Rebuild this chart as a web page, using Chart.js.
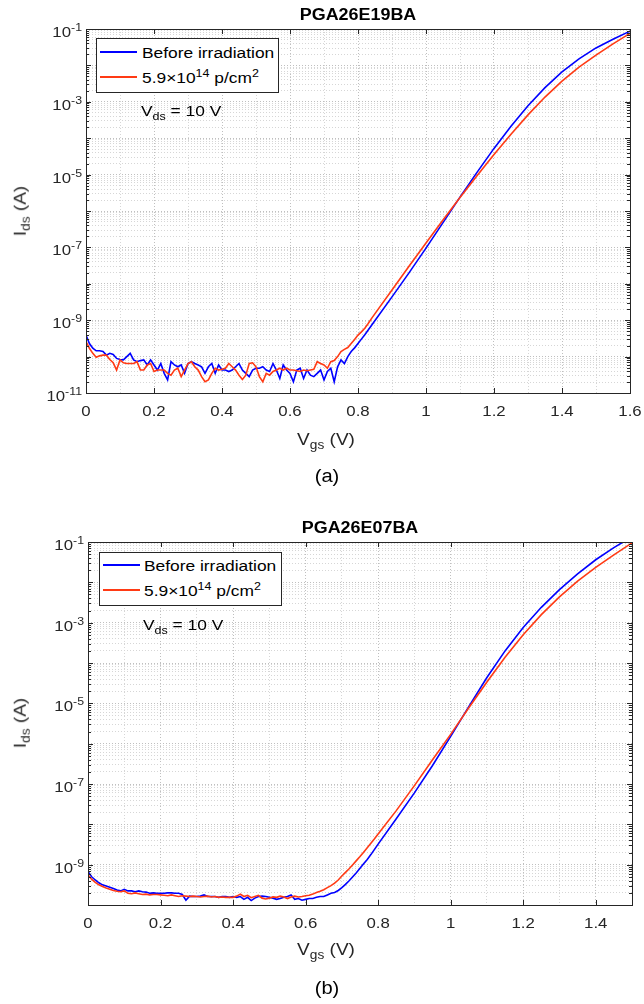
<!DOCTYPE html>
<html>
<head>
<meta charset="utf-8">
<script src="https://cdn.jsdelivr.net/npm/chart.js@4"></script>
<style>
  body { margin: 0; background: #fff; width: 644px; height: 1004px; position: relative; overflow: hidden;
         font-family: "Liberation Sans", Arial, Helvetica, sans-serif; }
  canvas { position: absolute; left: 0; }
  .lbl { position: absolute; white-space: nowrap; color: #262626; line-height: 1; }
  .c { transform: translate(-50%, -50%) scaleX(1.12); }
  .l { transform: translate(0, -50%) scaleX(1.12); transform-origin: 0 50%; }
  .rot { transform: translate(-50%, -50%) rotate(-90deg) scaleX(1.12); }
  .ttl { font-weight: bold; font-size: 16px; color: #000; }
  .ax { font-size: 17px; }
  .cap { font-size: 18px; color: #000; }
  sub { font-size: 0.72em; vertical-align: -0.35em; }
  sup { font-size: 0.72em; vertical-align: 0.55em; }
  .legend { position: absolute; border: 1px solid #262626; background: #fff; box-sizing: border-box; }
  .swatch { position: absolute; height: 2px; width: 37px; }
  .leg { font-size: 15.5px; color: #000; }
</style>
</head>
<body>

<canvas id="chartA" width="644" height="500" style="top:0"></canvas>
<canvas id="chartB" width="644" height="504" style="top:500px"></canvas>

<!-- panel (a) text -->
<div class="lbl c ttl" style="left:358px; top:15px">PGA26E19BA</div>
<div class="lbl rot ax" style="left:22px; top:211px">I<sub>ds</sub> (A)</div>
<div class="lbl c ax" style="left:326px; top:441px">V<sub>gs</sub> (V)</div>
<div class="lbl c cap" style="left:327px; top:476px">(a)</div>
<div class="legend" style="left:96px; top:38px; width:183px; height:55px"></div>
<div class="swatch" style="left:100px; top:51px; background:#0000ff"></div>
<div class="swatch" style="left:100px; top:76px; background:#ff3a14"></div>
<div class="lbl l leg" style="left:142px; top:53px">Before irradiation</div>
<div class="lbl l leg" style="left:142px; top:77px">5.9×10<sup>14</sup> p/cm<sup>2</sup></div>
<div class="lbl l leg" style="left:141px; top:113px">V<sub>ds</sub> = 10 V</div>

<!-- panel (b) text -->
<div class="lbl c ttl" style="left:360px; top:528px">PGA26E07BA</div>
<div class="lbl rot ax" style="left:22px; top:723px">I<sub>ds</sub> (A)</div>
<div class="lbl c ax" style="left:326px; top:951px">V<sub>gs</sub> (V)</div>
<div class="lbl c cap" style="left:327px; top:988px">(b)</div>
<div class="legend" style="left:99px; top:552px; width:183px; height:54px"></div>
<div class="swatch" style="left:103px; top:564px; background:#0000ff"></div>
<div class="swatch" style="left:103px; top:589px; background:#ff3a14"></div>
<div class="lbl l leg" style="left:144px; top:566px">Before irradiation</div>
<div class="lbl l leg" style="left:144px; top:590px">5.9×10<sup>14</sup> p/cm<sup>2</sup></div>
<div class="lbl l leg" style="left:143px; top:627px">V<sub>ds</sub> = 10 V</div>

<script>
// ---- data: gate voltage (V) and log10 of drain current (A) ----

// panel (a) PGA26E19BA
const vgsA = [
  0.00, 0.01, 0.02, 0.03, 0.04, 0.05, 0.06, 0.07, 0.08, 0.09,
  0.10, 0.11, 0.12, 0.13, 0.14, 0.15, 0.16, 0.17, 0.18, 0.19,
  0.20, 0.21, 0.22, 0.23, 0.24, 0.25, 0.26, 0.27, 0.28, 0.29,
  0.30, 0.31, 0.32, 0.33, 0.34, 0.35, 0.36, 0.37, 0.38, 0.39,
  0.40, 0.41, 0.42, 0.43, 0.44, 0.45, 0.46, 0.47, 0.48, 0.49,
  0.50, 0.51, 0.52, 0.53, 0.54, 0.55, 0.56, 0.57, 0.58, 0.59,
  0.60, 0.61, 0.62, 0.63, 0.64, 0.65, 0.66, 0.67, 0.68, 0.69,
  0.70, 0.71, 0.72, 0.73, 0.74, 0.75, 0.76, 0.77, 0.78, 0.79,
  0.80, 0.81, 0.82, 0.83, 0.84, 0.85,
  0.90, 0.95, 1.00, 1.05, 1.10, 1.15, 1.20, 1.25, 1.30, 1.35, 1.40, 1.45, 1.50, 1.55, 1.60
];
const logBeforeA = [
  -9.41, -9.64, -9.77, -9.84, -9.84, -9.86, -9.96, -9.91, -9.94, -10.05,
  -10.08, -10.09, -10.00, -9.91, -10.09, -10.14, -10.11, -10.09, -10.23, -10.09,
  -10.23, -10.37, -10.19, -10.46, -10.64, -10.14, -10.23, -10.28, -10.23, -10.46,
  -10.19, -10.14, -10.19, -10.23, -10.28, -10.46, -10.28, -10.19, -10.46, -10.23,
  -10.37, -10.37, -10.41, -10.37, -10.28, -10.19, -10.37, -10.46, -10.55, -10.37,
  -10.32, -10.32, -10.28, -10.37, -10.41, -10.19, -10.37, -10.60, -10.23, -10.37,
  -10.46, -10.69, -10.37, -10.32, -10.60, -10.37, -10.51, -10.55, -10.46, -10.37,
  -10.64, -10.41, -10.32, -10.69, -10.28, -10.09, -10.19, -10.00, -9.86, -9.76,
  -9.64, -9.52, -9.40, -9.27, -9.14, -9.01,
  -8.36, -7.70, -7.02, -6.32, -5.62, -4.94, -4.28, -3.67, -3.11, -2.61, -2.18, -1.82, -1.52, -1.28, -1.06
];
const logAfterA = [
  -9.59, -9.77, -9.91, -10.02, -9.98, -9.96, -9.96, -10.08, -10.17, -10.37,
  -10.09, -10.17, -10.19, -10.19, -10.19, -10.14, -10.37, -10.37, -10.23, -10.19,
  -10.41, -10.37, -10.37, -10.37, -10.46, -10.51, -10.37, -10.32, -10.55, -10.37,
  -10.19, -10.14, -10.28, -10.37, -10.55, -10.69, -10.64, -10.46, -10.32, -10.37,
  -10.35, -10.32, -10.19, -10.28, -10.37, -10.51, -10.63, -10.51, -10.19, -10.17,
  -10.28, -10.55, -10.69, -10.46, -10.51, -10.41, -10.37, -10.32, -10.37, -10.32,
  -10.37, -10.37, -10.39, -10.41, -10.37, -10.39, -10.37, -10.35, -10.14, -10.19,
  -10.23, -10.32, -10.14, -10.11, -10.00, -9.86, -9.80, -9.75, -9.64, -9.53,
  -9.41, -9.32, -9.22, -9.09, -8.95, -8.82,
  -8.17, -7.52, -6.88, -6.25, -5.63, -5.03, -4.45, -3.89, -3.36, -2.87, -2.43, -2.05, -1.72, -1.41, -1.12
];

// panel (b) PGA26E07BA
const vgsB = [
  0.00, 0.01, 0.02, 0.03, 0.04, 0.05, 0.06, 0.07, 0.08, 0.09,
  0.10, 0.11, 0.12, 0.13, 0.14, 0.15, 0.16, 0.17, 0.18, 0.19,
  0.20, 0.21, 0.22, 0.23, 0.24, 0.25, 0.26, 0.27, 0.28, 0.29,
  0.30, 0.31, 0.32, 0.33, 0.34, 0.35, 0.36, 0.37, 0.38, 0.39,
  0.40, 0.41, 0.42, 0.43, 0.44, 0.45, 0.46, 0.47, 0.48, 0.49,
  0.50, 0.51, 0.52, 0.53, 0.54, 0.55, 0.56, 0.57, 0.58, 0.59,
  0.60, 0.61, 0.62, 0.63, 0.64, 0.65, 0.66, 0.67, 0.68, 0.69,
  0.70, 0.71, 0.72, 0.73, 0.74, 0.75, 0.76, 0.77, 0.78, 0.79,
  0.80,
  0.85, 0.90, 0.95, 1.00, 1.05, 1.10, 1.15, 1.20, 1.25, 1.30, 1.35, 1.40, 1.45, 1.50
];
const logBeforeB = [
  -9.17, -9.30, -9.38, -9.45, -9.50, -9.53, -9.56, -9.59, -9.63, -9.65,
  -9.61, -9.65, -9.65, -9.67, -9.65, -9.67, -9.68, -9.71, -9.70, -9.71,
  -9.71, -9.71, -9.70, -9.70, -9.71, -9.71, -9.74, -9.88, -9.78, -9.79,
  -9.79, -9.78, -9.75, -9.79, -9.79, -9.79, -9.81, -9.79, -9.79, -9.81,
  -9.79, -9.81, -9.79, -9.86, -9.81, -9.89, -9.83, -9.79, -9.78, -9.79,
  -9.81, -9.83, -9.86, -9.84, -9.81, -9.79, -9.75, -9.86, -9.84, -9.88,
  -9.86, -9.84, -9.84, -9.81, -9.79, -9.79, -9.75, -9.71, -9.69, -9.64,
  -9.57, -9.49, -9.40, -9.30, -9.20, -9.09, -8.98, -8.87, -8.75, -8.62,
  -8.49,
  -7.86, -7.22, -6.54, -5.82, -5.08, -4.36, -3.70, -3.12, -2.62, -2.18, -1.79, -1.44, -1.14, -0.87
];
const logAfterB = [
  -9.26, -9.36, -9.44, -9.50, -9.54, -9.58, -9.61, -9.64, -9.66, -9.67,
  -9.65, -9.71, -9.72, -9.70, -9.72, -9.74, -9.73, -9.75, -9.74, -9.74,
  -9.75, -9.76, -9.77, -9.75, -9.77, -9.79, -9.77, -9.78, -9.79, -9.78,
  -9.79, -9.80, -9.79, -9.78, -9.80, -9.79, -9.81, -9.80, -9.81, -9.81,
  -9.81, -9.78, -9.73, -9.79, -9.76, -9.82, -9.79, -9.76, -9.83, -9.85,
  -9.83, -9.80, -9.81, -9.78, -9.80, -9.84, -9.80, -9.78, -9.80, -9.79,
  -9.77, -9.76, -9.73, -9.69, -9.66, -9.62, -9.57, -9.52, -9.46, -9.38,
  -9.28, -9.19, -9.10, -9.00, -8.90, -8.80, -8.69, -8.58, -8.47, -8.36,
  -8.24,
  -7.66, -7.04, -6.40, -5.77, -5.11, -4.47, -3.86, -3.30, -2.80, -2.36, -1.97, -1.63, -1.32, -1.02
];

// axis ticks
const xLabelsA = [0, 0.2, 0.4, 0.6, 0.8, 1, 1.2, 1.4, 1.6];
const xLabelsB = [0, 0.2, 0.4, 0.6, 0.8, 1, 1.2, 1.4];
const yLabelExpA = [-1, -3, -5, -7, -9, -11];
const yLabelExpB = [-1, -3, -5, -7, -9];

const FONT = '"Liberation Sans", Arial, Helvetica, sans-serif';
const STRETCH = 1.12;       // the source figure is slightly wide
const AXIS = '#262626';

function stretchedText(ctx, str, x, y, align) {
  ctx.save();
  ctx.translate(x, y);
  ctx.scale(STRETCH, 1);
  ctx.textAlign = align;
  ctx.fillText(str, 0, 0);
  ctx.restore();
}

// box, inward ticks and tick labels (MATLAB style)
const axesFrame = {
  id: 'axesFrame',
  afterDraw(chart, args, opts) {
    const { ctx, chartArea: a, scales: { x, y } } = chart;
    ctx.save();
    ctx.strokeStyle = AXIS;
    ctx.lineWidth = 1;
    ctx.beginPath();
    y.ticks.forEach(t => {
      const p = Math.round(y.getPixelForValue(t.value)) + 0.5;
      const e = Math.log10(t.value);
      const major = Math.abs(e - Math.round(e)) < 1e-6;
      const len = major ? 5 : 3;
      ctx.moveTo(a.left, p); ctx.lineTo(a.left + len, p);
      ctx.moveTo(a.right, p); ctx.lineTo(a.right - len, p);
    });
    opts.xLabels.forEach(v => {
      const p = Math.round(x.getPixelForValue(v)) + 0.5;
      ctx.moveTo(p, a.bottom); ctx.lineTo(p, a.bottom - 5);
      ctx.moveTo(p, a.top); ctx.lineTo(p, a.top + 5);
    });
    ctx.stroke();
    ctx.strokeRect(Math.round(a.left) + 0.5, Math.round(a.top) + 0.5,
                   Math.round(a.right - a.left), Math.round(a.bottom - a.top));

    ctx.fillStyle = AXIS;
    ctx.textBaseline = 'alphabetic';
    ctx.font = '15px ' + FONT;
    opts.xLabels.forEach(v => {
      stretchedText(ctx, String(v), x.getPixelForValue(v), a.bottom + 23, 'center');
    });
    opts.yExps.forEach(e => {
      const p = y.getPixelForValue(Math.pow(10, e));
      ctx.font = '15px ' + FONT;
      const wBase = ctx.measureText('10').width * STRETCH;
      ctx.font = '11px ' + FONT;
      const wExp = ctx.measureText(String(e)).width * STRETCH;
      const right = a.left - 4;
      ctx.font = '15px ' + FONT;
      stretchedText(ctx, '10', right - wExp - wBase, p + 8, 'left');
      ctx.font = '11px ' + FONT;
      stretchedText(ctx, String(e), right - wExp, p + 2, 'left');
    });
    ctx.restore();
  }
};

function makePanel(canvasId, vgs, logBefore, logAfter, opts) {
  const toPoints = logs => logs.map((L, i) => ({ x: vgs[i], y: Math.pow(10, L) }));
  // y grid: every 1..9 x 10^n inside the range
  const yGrid = [];
  for (let e = opts.yMinExp; e <= opts.yMaxExp; e++) {
    for (let m = 1; m <= 9; m++) {
      if (e === opts.yMaxExp && m > 1) break;
      yGrid.push(m * Math.pow(10, e));
    }
  }
  // x grid: labelled ticks plus one minor line between them
  const xGrid = [];
  opts.xLabels.forEach((v, i) => {
    xGrid.push(v);
    if (i < opts.xLabels.length - 1) xGrid.push((v + opts.xLabels[i + 1]) / 2);
  });
  const isDecade = v => { const e = Math.log10(v); return Math.abs(e - Math.round(e)) < 1e-6; };
  const isLabelled = v => opts.xLabels.some(l => Math.abs(l - v) < 1e-6);

  return new Chart(document.getElementById(canvasId), {
    type: 'line',
    data: {
      datasets: [
        { label: 'Before irradiation', data: toPoints(logBefore), borderColor: '#0000ff',
          borderWidth: 1.6, pointRadius: 0, tension: 0, order: 1 },
        { label: '5.9×10^14 p/cm^2', data: toPoints(logAfter), borderColor: '#ff3a14',
          borderWidth: 1.6, pointRadius: 0, tension: 0, order: 0 }
      ]
    },
    options: {
      responsive: false,
      animation: false,
      layout: { padding: opts.padding },
      plugins: {
        legend: { display: false },
        tooltip: { enabled: false },
        axesFrame: { xLabels: opts.xLabels, yExps: opts.yExps }
      },
      scales: {
        x: {
          type: 'linear', min: 0, max: opts.xMax,
          afterBuildTicks: s => { s.ticks = xGrid.map(v => ({ value: v })); },
          ticks: { display: false },
          grid: { drawTicks: false, color: c => isLabelled(c.tick.value) ? '#bfbfbf' : '#d6d6d6' },
          border: { display: false, dash: [1, 2] }
        },
        y: {
          type: 'logarithmic', min: Math.pow(10, opts.yMinExp), max: Math.pow(10, opts.yMaxExp),
          afterBuildTicks: s => { s.ticks = yGrid.map(v => ({ value: v })); },
          ticks: { display: false },
          grid: { drawTicks: false, color: c => isDecade(c.tick.value) ? '#bfbfbf' : '#d6d6d6' },
          border: { display: false, dash: [1, 2] }
        }
      }
    },
    plugins: [axesFrame]
  });
}

makePanel('chartA', vgsA, logBeforeA, logAfterA, {
  xMax: 1.6, yMinExp: -11, yMaxExp: -1, xLabels: xLabelsA, yExps: yLabelExpA,
  padding: { left: 86, top: 29, right: 14, bottom: 107 }
});
makePanel('chartB', vgsB, logBeforeB, logAfterB, {
  xMax: 1.5, yMinExp: -10, yMaxExp: -1, xLabels: xLabelsB, yExps: yLabelExpB,
  padding: { left: 88, top: 42, right: 12, bottom: 99 }
});
</script>
</body>
</html>
